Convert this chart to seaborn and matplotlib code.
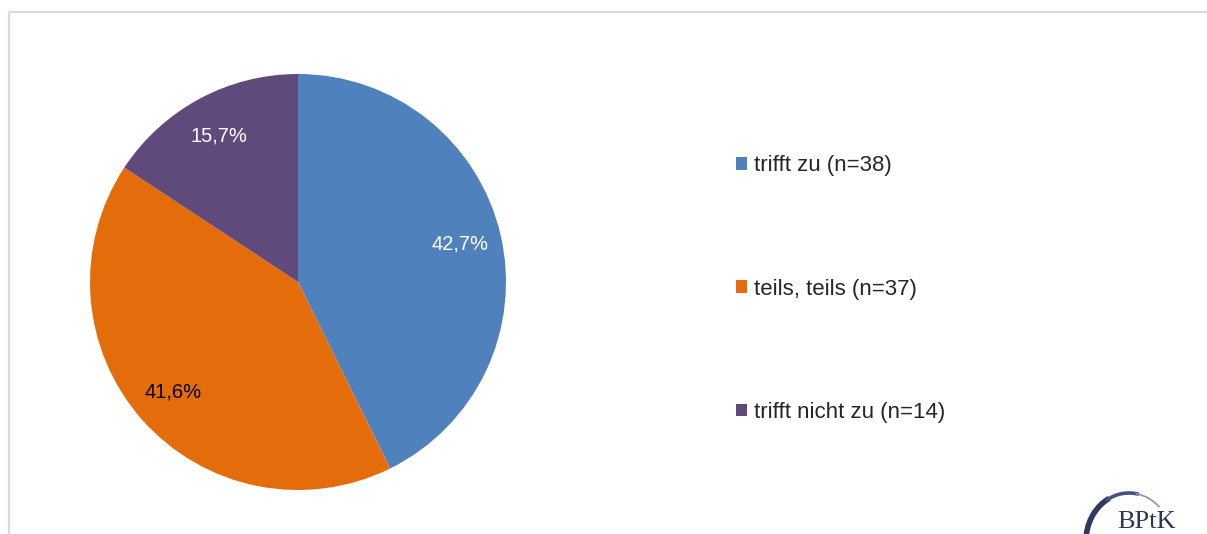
import matplotlib.pyplot as plt
import seaborn as sns
from matplotlib.patches import Patch, Arc, Rectangle

# Daten
kategorien = ["trifft zu", "teils, teils", "trifft nicht zu"]
anzahl = [38, 37, 14]
farben = ["#4f81bd", "#e46c0a", "#604a7b"]
label_farben = ["white", "black", "white"]

sns.set_theme(style="white")
plt.rcParams["font.family"] = ["Liberation Sans", "DejaVu Sans"]
palette = sns.color_palette(farben)

fig = plt.figure(figsize=(12.07, 5.34), dpi=100)

# Hintergrund-Achse in Pixelkoordinaten (Rahmen + Logo)
bg = fig.add_axes([0, 0, 1, 1], zorder=-1)
bg.set_xlim(0, 1207)
bg.set_ylim(534, 0)
bg.axis("off")
bg.add_patch(Rectangle((9, 12), 1250, 600, fill=False, edgecolor="#d9d9d9", lw=1.6))

# Logo BPtK (Bogen + Schriftzug)
for t1, t2, lw, col in [(188, 245, 4.0, "#2e3a60"), (240, 282, 2.6, "#46527a"),
                        (278, 312, 1.2, "#8a93aa")]:
    bg.add_patch(Arc((1129, 541), 86, 96, theta1=t1, theta2=t2, color=col, lw=lw))
bg.text(1117, 528, "BPtK", family=["Liberation Serif", "DejaVu Serif"], fontsize=19,
        color="#2b3656", ha="left", va="baseline")

# Kreisdiagramm
cx, cy, r = 298, 282, 208
W, H = 1207, 534
ax = fig.add_axes([(cx - r) / W, (H - cy - r) / H, 2 * r / W, 2 * r / H])
wedges, texts, autotexts = ax.pie(
    anzahl, colors=palette, startangle=90, counterclock=False,
    autopct=lambda p: f"{p:.1f}%".replace(".", ","), pctdistance=0.8,
    wedgeprops=dict(edgecolor="none"), textprops=dict(fontsize=14.5),
    radius=1.0,
)
for t, c in zip(autotexts, label_farben):
    t.set_color(c)
ax.set_xlim(-1, 1)
ax.set_ylim(-1, 1)
ax.set_aspect("equal")

# Legende
handles = [Patch(facecolor=c, edgecolor="none") for c in palette]
labels = [f"{k} (n={n})" for k, n in zip(kategorien, anzahl)]
fig.legend(handles, labels, loc="center left", bbox_to_anchor=(725 / W, 1 - 289 / H),
           frameon=False, fontsize=16, labelspacing=4.6, handlelength=0.5,
           handleheight=0.5, handletextpad=0.3, borderpad=0)

fig.savefig("out.png", dpi=100)
